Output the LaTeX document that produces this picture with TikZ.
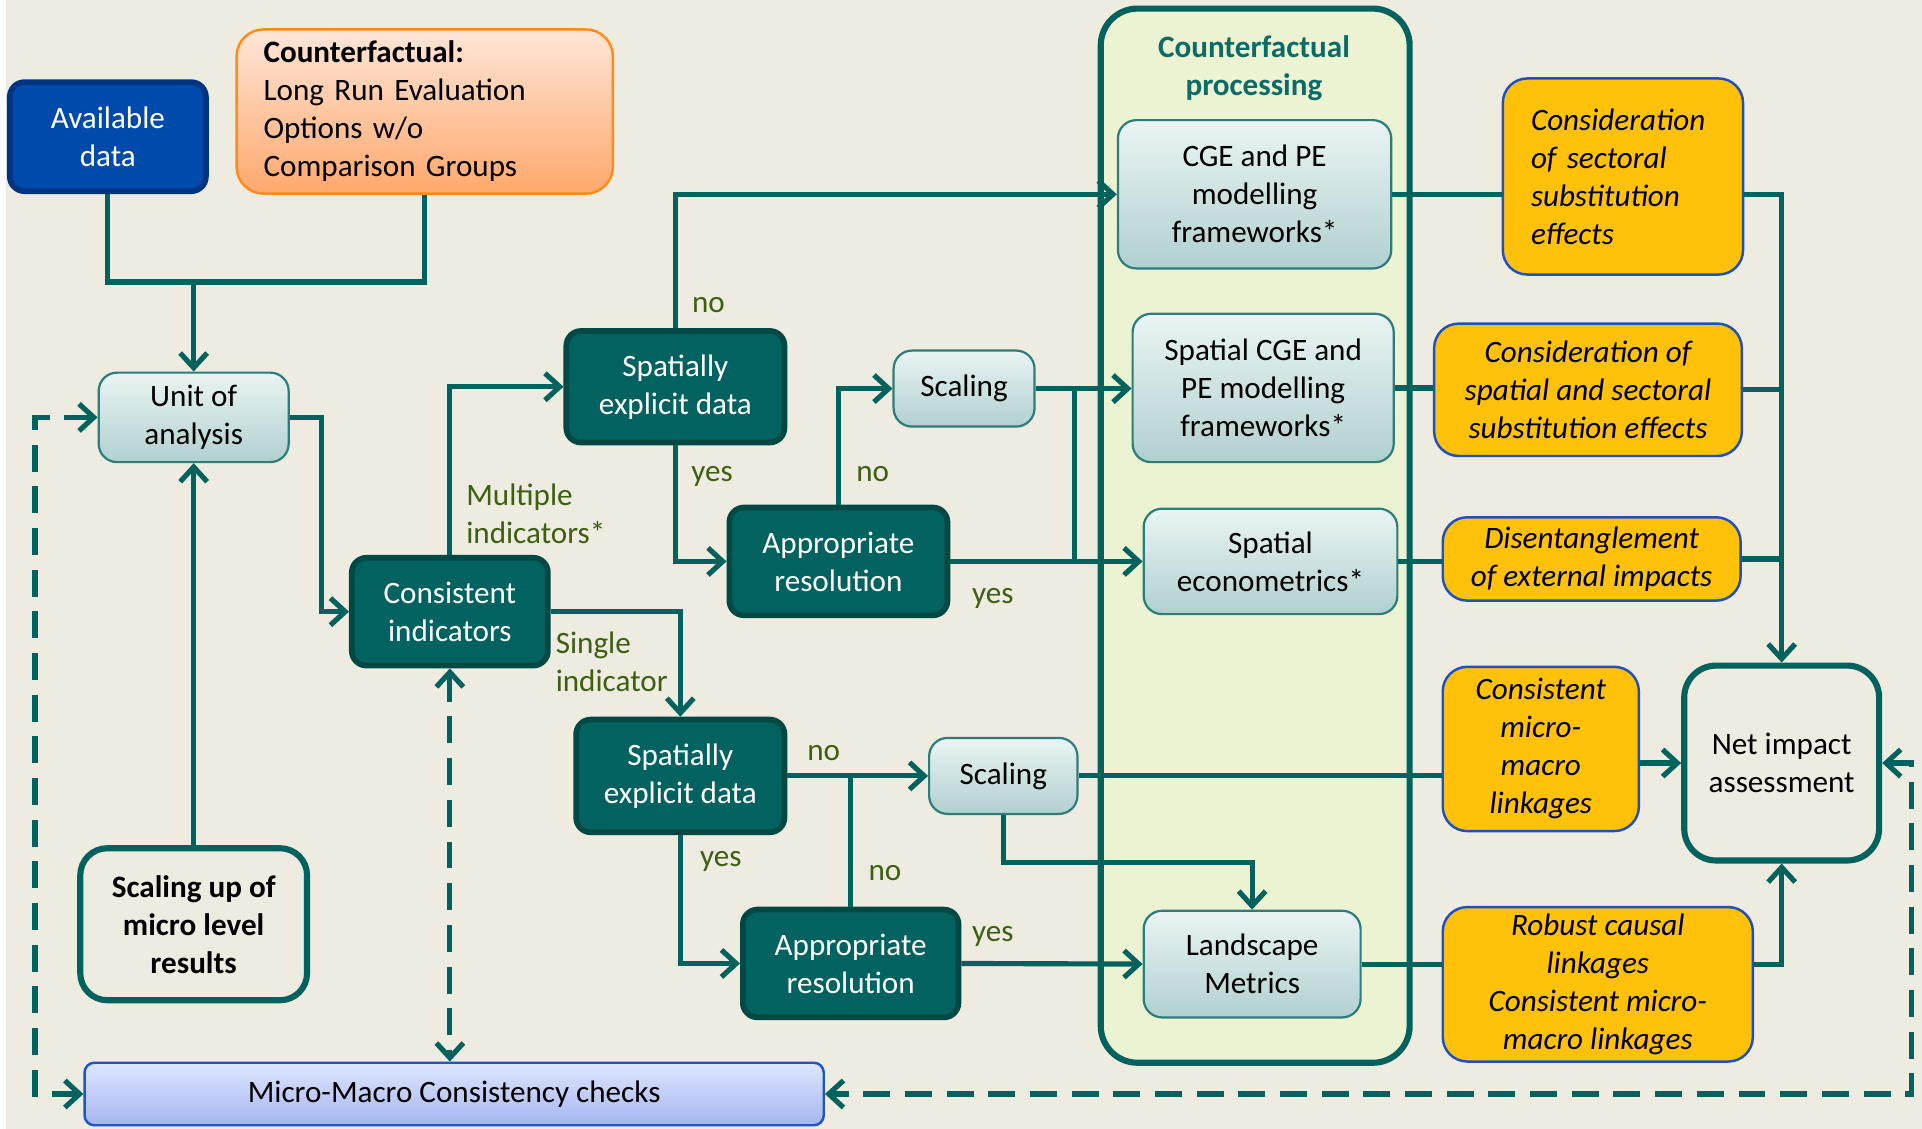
\documentclass[tikz,border=0pt]{standalone}
\usepackage{fontspec}
\setmainfont{Carlito}
\usetikzlibrary{arrows.meta,positioning}

\definecolor{bg}{RGB}{238,235,224}
\definecolor{tealline}{RGB}{3,98,94}
\definecolor{darkfill}{RGB}{2,98,95}
\definecolor{darkedge}{RGB}{0,72,68}
\definecolor{lightedge}{RGB}{45,125,122}
\definecolor{lighttop}{RGB}{234,244,244}
\definecolor{lightbot}{RGB}{178,208,208}
\definecolor{ylfill}{RGB}{255,193,10}
\definecolor{yledge}{RGB}{30,80,190}
\definecolor{labgreen}{RGB}{62,94,18}
\definecolor{framefill}{RGB}{236,243,210}
\definecolor{titleteal}{RGB}{11,107,102}
\definecolor{avfill}{RGB}{0,74,171}
\definecolor{avedge}{RGB}{0,52,128}
\definecolor{cftop}{RGB}{255,230,216}
\definecolor{cfbot}{RGB}{255,168,108}
\definecolor{cfedge}{RGB}{255,140,26}
\definecolor{mmctop}{RGB}{222,230,255}
\definecolor{mmcbot}{RGB}{165,182,240}
\definecolor{mmcedge}{RGB}{30,85,200}

\begin{document}
\begin{tikzpicture}[
  x=0.5pt, y=-0.5pt,
  font=\fontsize{12.7}{15.5}\selectfont,
  >={Straight Barb[length=6pt,width=11pt]},
  base/.style={rounded corners=6pt, align=center, inner sep=2pt},
  dbox/.style={base, draw=darkedge, line width=2.3pt, fill=darkfill, text=white},
  lbox/.style={base, rounded corners=7.5pt, draw=lightedge, line width=0.9pt,
               top color=lighttop, bottom color=lightbot},
  ybox/.style={base, rounded corners=10pt, draw=yledge, line width=1pt,
               fill=ylfill, font=\fontsize{12.7}{15.5}\selectfont\itshape},
  obox/.style={base, rounded corners=13pt, draw=tealline, line width=2.5pt, fill=bg},
  conn/.style={draw=tealline, line width=2.1pt},
  arr/.style={conn, ->},
  darr/.style={conn, dash pattern=on 11pt off 6pt, <->},
  lab/.style={text=labgreen, inner sep=1pt}
]
\useasboundingbox (0,0) rectangle (1568,921);
\fill[white] (0,0) rectangle (5,921);
\fill[bg] (5,0) rectangle (1568,921);

% counterfactual processing column
\node[draw=tealline, line width=2.5pt, fill=framefill, rounded corners=15pt,
      minimum width=126pt, minimum height=430pt] (cfp) at (1024,437) {};
\node[font=\fontsize{12.7}{15.5}\selectfont\bfseries, text=titleteal, align=center]
      (cfptitle) at (1023,56) {Counterfactual\\processing};

% inputs
\node[base, draw=avedge, line width=2.3pt, fill=avfill, text=white,
      minimum width=80pt, minimum height=44.5pt] (avail) at (88,111.5) {Available\\data};
\node[base, rounded corners=11pt, draw=cfedge, line width=1pt, top color=cftop,
      bottom color=cfbot, minimum height=67pt, text width=131.5pt, align=left,
      inner xsep=11pt] (cf) at (346.5,91)
      {\textbf{Counterfactual:}\\Long Run Evaluation\\Options w/o\\Comparison Groups};
\node[lbox, minimum width=77.5pt, minimum height=36.5pt] (unit) at (158,340.5) {Unit of\\analysis};
\node[obox, rounded corners=11pt, minimum width=92.5pt, minimum height=62pt,
      font=\fontsize{12.7}{15.5}\selectfont\bfseries] (scup) at (158,754)
      {Scaling up of\\micro level\\results};
\node[base, rounded corners=4pt, draw=mmcedge, line width=1pt, top color=mmctop,
      bottom color=mmcbot, minimum width=301.5pt, minimum height=25.5pt]
      (mmc) at (370.5,892.5) {Micro-Macro Consistency checks};

% decisions
\node[dbox, minimum width=80pt, minimum height=44pt] (cons) at (367,499) {Consistent\\indicators};
\node[dbox, minimum width=89pt, minimum height=45.5pt] (sed1) at (551,315.5) {Spatially\\explicit data};
\node[dbox, minimum width=89pt, minimum height=44pt] (res1) at (684,458) {Appropriate\\resolution};
\node[lbox, minimum width=57.5pt, minimum height=31pt] (scal1) at (786.5,317) {Scaling};
\node[dbox, minimum width=85pt, minimum height=46pt] (sed2) at (555,633) {Spatially\\explicit data};
\node[dbox, minimum width=88pt, minimum height=44pt] (res2) at (694,786) {Appropriate\\resolution};
\node[lbox, minimum width=60.5pt, minimum height=31pt] (scal2) at (818.5,633) {Scaling};

% methods
\node[lbox, minimum width=111.5pt, minimum height=60.5pt] (cge) at (1023.5,158.5) {CGE and PE\\modelling\\frameworks*};
\node[lbox, minimum width=106.5pt, minimum height=60.5pt] (scge) at (1030.5,316.5) {Spatial CGE and\\PE modelling\\frameworks*};
\node[lbox, minimum width=103.5pt, minimum height=43pt] (secon) at (1036.5,458) {Spatial\\econometrics*};
\node[lbox, minimum width=88.5pt, minimum height=43.5pt] (land) at (1021.5,786.5) {Landscape\\Metrics};

% effects
\node[ybox, minimum height=80pt, text width=75pt, align=left, inner xsep=11.5pt]
      (ya) at (1324,144) {Consideration\\of sectoral\\substitution\\effects};
\node[ybox, minimum width=125.5pt, minimum height=54pt] (yb) at (1295.5,318)
      {Consideration of\\spatial and sectoral\\substitution effects};
\node[ybox, minimum width=121.5pt, minimum height=34pt] (yc) at (1298.5,456)
      {Disentanglement\\of external impacts};
\node[ybox, minimum width=80pt, minimum height=67pt] (yd) at (1257,611)
      {Consistent\\micro-\\macro\\linkages};
\node[ybox, minimum width=126.5pt, minimum height=63pt] (ye) at (1303.5,803)
      {Robust causal\\linkages\\Consistent micro-\\macro linkages};
\node[obox, minimum width=79.5pt, minimum height=79.5pt] (net) at (1453.5,622.5) {Net impact\\assessment};

% inputs to unit of analysis
\coordinate (join) at (158,230);
\draw[conn] (avail.south) |- (join) -| (cf.south);
\draw[arr] (join) -- (unit.north);
\draw[arr] (scup) -- (unit);
\draw[arr] (unit.east) -- ++(26,0) |- (cons.west);

% multiple indicators
\draw[arr] (cons.north) |- (sed1.west);
\draw[arr] (sed1.north) |- (cge.west);
\draw[arr] (sed1.south) |- (res1.west);
\draw[arr] (res1.north) |- (scal1.west);
\draw[arr] (scal1.east) -- (scal1.east -| scge.west);
\draw[arr] (res1.east) -- (secon.west);
\draw[conn] ([xshift=16pt]scal1.east) -- ([xshift=16pt]scal1.east |- res1.east);
\node[lab, anchor=west, align=left] at (378,419.5) {Multiple\\indicators*};
\node[lab] at (578,249) {no};
\node[lab] at (581,389) {yes};
\node[lab] at (712,387) {no};
\node[lab] at (810,488) {yes};

% single indicator
\draw[arr] (cons.east) -| (sed2.north);
\draw[arr] (sed2.east) -- (scal2.west);
\draw[conn] (res2.north) -- (res2.north |- sed2.east);
\draw[arr] (sed2.south) |- (res2.west);
\draw[arr] (res2.east) -- (land.west);
\draw[arr] (scal2.south) -- ++(0,39) -| (land.north);
\node[lab, anchor=west, align=left] at (451,539.5) {Single\\indicator};
\node[lab] at (672,614) {no};
\node[lab] at (588,703) {yes};
\node[lab] at (722,712) {no};
\node[lab] at (810,764) {yes};

% effects to net impact
\draw[conn] (cge.east) -- (cge.east -| ya.west);
\draw[conn] (scge.east) -- (scge.east -| yb.west);
\draw[conn] (secon.east) -- (secon.east -| yc.west);
\draw[conn] (scal2.east) -- (scal2.east -| yd.west);
\draw[conn] (land.east) -- (land.east -| ye.west);
\draw[arr] (ya.east |- cge.east) -| (net.north);
\draw[conn] (yb.east) -- (yb.east -| net.north);
\draw[conn] (yc.east) -- (yc.east -| net.north);
\draw[arr] (yd.east |- net.west) -- (net.west);
\draw[arr] (ye.east |- land.east) -| (net.south);

% consistency checks
\draw[darr] (cons.south) -- (cons.south |- mmc.north);
\draw[darr] (unit.west) -- ++(-51,0) |- (mmc.west);
\draw[darr] (net.east) -- ++(24,0) |- (mmc.east);
\end{tikzpicture}
\end{document}
